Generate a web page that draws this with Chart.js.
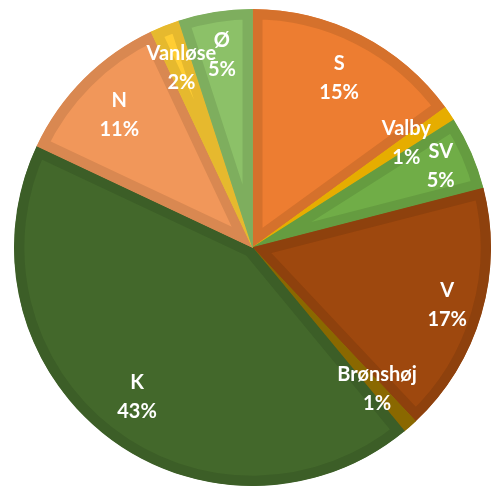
<!DOCTYPE html>
<html>
<head>
<meta charset="utf-8">
<script src="https://cdn.jsdelivr.net/npm/chart.js@4.4.0/dist/chart.umd.min.js"></script>
<style>
  html, body { margin: 0; padding: 0; background: #fff; }
  #wrap { width: 491px; height: 490px; }
</style>
</head>
<body>
<div id="wrap"><canvas id="pieChart"></canvas></div>
<script>
// --- Data ---
const districts = ['S', 'Valby', 'SV', 'V', 'Brønshøj', 'K', 'N', 'Vanløse', 'Ø'];
const shares = [15, 1, 5, 17, 1, 43, 11, 2, 5];
const sliceColors = ['#ED7D31', '#FFC000', '#70AD47', '#9E480E', '#997300', '#43682B', '#F1975A', '#FFCD33', '#8CC168'];

// label distance from centre, as a fraction of the radius (Excel "best fit" look)
const labelRadius = [0.80, 0.78, 0.86, 0.85, 0.79, 0.79, 0.79, 0.81, 0.82];

// darker shade for the slice outline
function shade(hex, f) {
    const n = parseInt(hex.slice(1), 16);
    const r = Math.round(((n >> 16) & 255) * f);
    const g = Math.round(((n >> 8) & 255) * f);
    const b = Math.round((n & 255) * f);
    return `rgb(${r}, ${g}, ${b})`;
}

// draws "name / pct%" inside each slice
const sliceLabels = {
    id: 'sliceLabels',
    afterDatasetsDraw(chart) {
        const ctx = chart.ctx;
        const meta = chart.getDatasetMeta(0);
        ctx.save();
        ctx.fillStyle = '#fff';
        ctx.font = 'bold 20px Lato';
        ctx.textAlign = 'center';
        ctx.textBaseline = 'middle';
        meta.data.forEach((arc, i) => {
            const p = arc.getProps(['x', 'y', 'startAngle', 'endAngle', 'outerRadius']);
            const mid = (p.startAngle + p.endAngle) / 2;
            const r = p.outerRadius * labelRadius[i];
            const x = p.x + Math.cos(mid) * r;
            const y = p.y + Math.sin(mid) * r;
            ctx.fillText(districts[i], x, y - 14);
            ctx.fillText(shares[i] + '%', x, y + 15);
        });
        ctx.restore();
    }
};

new Chart(document.getElementById('pieChart'), {
    type: 'pie',
    data: {
        labels: districts,
        datasets: [{
            data: shares,
            backgroundColor: sliceColors,
            borderColor: sliceColors.map(c => shade(c, 0.9)),
            borderWidth: 10,
            borderAlign: 'inner',
            borderJoinStyle: 'miter'
        }]
    },
    options: {
        responsive: true,
        maintainAspectRatio: false,
        animation: false,
        layout: { padding: { left: 14, right: -5, top: 6, bottom: 1 } },
        plugins: {
            legend: { display: false },
            tooltip: { enabled: false }
        }
    },
    plugins: [sliceLabels]
});
</script>
</body>
</html>
